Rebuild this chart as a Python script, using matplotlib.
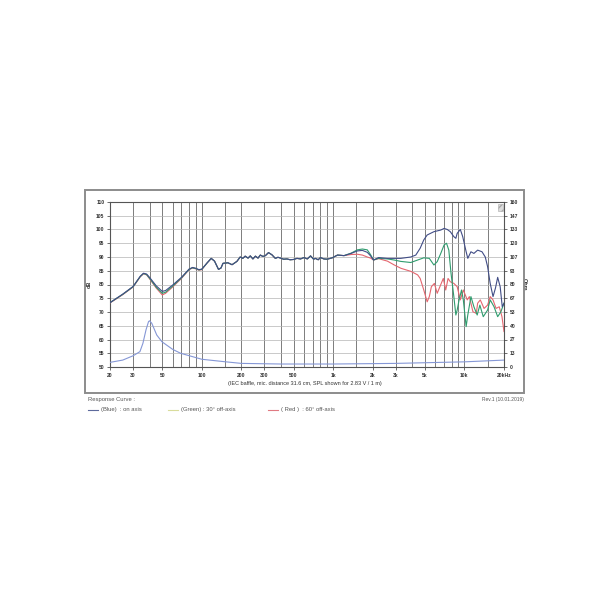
"""
Loudspeaker response curve: on-axis, 30 and 60 degree off-axis SPL with impedance.
"""
import numpy as np
from matplotlib import pyplot as plt
from matplotlib.patches import Rectangle
from matplotlib.lines import Line2D

plt.rcParams["font.family"] = ["Liberation Sans", "DejaVu Sans"]

W = H = 610

# ---- data ----
# shared low / mid frequency part (on-axis)
low_f = [20, 25, 30, 34, 36, 38, 40, 45, 50, 53, 60, 70, 80, 85, 90, 95, 100,
         110, 118, 125, 134, 140, 145, 158, 170, 185, 196, 205, 214, 225, 234,
         245, 256, 268, 279, 292, 305, 322, 342, 363, 380, 398, 420, 445, 470,
         500, 530, 565, 600, 636, 673, 710, 732, 770, 800, 850, 902, 983, 1080,
         1210]
low_db = [73.4, 76.5, 79.3, 83.0, 84.1, 83.8, 82.6, 79.5, 77.5, 77.8, 79.8,
          82.6, 85.6, 86.2, 85.9, 85.4, 85.6, 87.9, 89.5, 88.5, 85.5, 86.0,
          87.7, 87.9, 87.2, 88.4, 90.0, 89.5, 90.3, 89.6, 90.4, 89.3, 90.3,
          89.6, 90.7, 90.2, 90.5, 91.6, 90.8, 89.5, 89.9, 89.6, 89.2, 89.3,
          89.0, 89.1, 89.5, 89.3, 89.8, 89.3, 90.4, 89.2, 89.5, 89.0, 89.8,
          89.3, 89.2, 89.7, 90.7, 90.5]
# off-axis curves sit a bit lower in the 50 Hz dip
green_low_db = [73.4, 76.4, 79.2, 82.9, 84.0, 83.6, 82.3, 79.0, 76.8, 77.2,
                79.4, 82.4, 85.5, 86.1, 85.8, 85.3, 85.5]
red_low_db = [73.3, 76.3, 79.1, 82.8, 83.9, 83.5, 82.1, 78.7, 76.2, 76.8,
              79.1, 82.2, 85.4, 86.0, 85.7, 85.2, 85.4]

blue_hi_f = [1370, 1530, 1670, 1820, 1930, 2030, 2220, 2590, 2920, 3270, 3900,
             4260, 4600, 4900, 5200, 5850, 6600, 7000, 7400, 7800, 8300, 8600,
             8800, 9300, 9700, 10300, 10600, 11200, 11800, 12600, 13600, 14400,
             15000, 15700, 16500, 17200, 17900, 18700, 19400, 20000]
blue_hi_db = [91.3, 92.2, 92.4, 91.7, 90.4, 88.9, 89.8, 89.5, 89.5, 89.5, 90.0,
              90.7, 93.2, 96.2, 98.0, 99.2, 99.8, 100.4, 100.0, 99.2, 97.4,
              96.8, 98.6, 100.0, 97.4, 91.9, 89.5, 91.9, 91.3, 92.5, 91.9, 90.0,
              86.5, 80.4, 75.6, 78.6, 82.6, 79.2, 71.9, 73.2]

green_hi_f = [1370, 1530, 1670, 1820, 1930, 2030, 2220, 2590, 2920, 3270, 3900,
              4400, 4900, 5400, 5850, 6200, 6600, 7000, 7300, 7600, 7900, 8300,
              8600, 8800, 9100, 9500, 9800, 10300, 10600, 11200, 11800, 12500,
              13100, 13900, 15000, 15700, 16800, 17900, 18900, 20000]
green_hi_db = [91.4, 92.6, 92.9, 92.6, 90.8, 88.9, 89.5, 89.3, 88.9, 88.4,
               88.0, 88.9, 89.7, 89.5, 87.1, 88.3, 91.3, 94.4, 95.0, 92.5, 84.1,
               75.6, 68.9, 70.7, 74.4, 78.0, 74.4, 64.7, 68.9, 75.6, 71.9, 68.9,
               72.5, 68.3, 70.7, 74.4, 71.9, 68.3, 70.0, 73.2]

red_hi_f = [1370, 1530, 1670, 1820, 1930, 2030, 2220, 2590, 2920, 3280, 3600,
            3900, 4400, 4600, 4900, 5200, 5400, 5600, 5900, 6200, 6500, 6900,
            7200, 7500, 7800, 8300, 8800, 9300, 9800, 10500, 10900, 11600,
            12300, 12600, 13200, 14100, 15000, 15700, 16500, 17400, 18400,
            19300, 20000]
red_hi_db = [90.9, 91.0, 90.7, 90.0, 89.6, 88.9, 89.4, 88.5, 87.1, 85.9, 85.3,
             84.8, 83.5, 82.2, 78.0, 73.7, 75.6, 79.2, 80.4, 76.8, 79.2, 82.2,
             78.0, 82.2, 81.0, 80.4, 79.2, 74.4, 78.0, 74.4, 75.6, 70.1, 69.5,
             73.2, 74.4, 71.3, 72.5, 75.6, 74.4, 71.3, 71.9, 68.3, 62.9]

imp_f = [20, 25, 30, 33.8, 35.6, 37.6, 39.3, 40, 41.6, 45.4, 49.7, 60, 69, 100,
         150, 200, 400, 1000, 3000, 10000, 20000]
imp_ohm = [4.5, 6.7, 10.9, 14.9, 22.9, 36.0, 44.0, 44.8, 42.4, 31.0, 24.5, 17.1,
           13.3, 7.5, 5.1, 3.5, 2.9, 2.9, 3.5, 5.0, 6.7]

x_ticks = [20, 30, 50, 100, 200, 300, 500, 1000, 2000, 3000, 5000, 10000, 20000]
x_labels = ["20", "30", "50", "100", "200", "300", "500", "1k", "2k", "3k",
            "5k", "10k", "20kHz"]
x_grid = ([20, 30, 40, 50, 60, 70, 80, 90, 100, 150]
          + list(range(200, 1001, 100)) + [1500]
          + list(range(2000, 10001, 1000)) + [15000, 20000])
db_ticks = list(range(50, 111, 5))
ohm_labels = ["0", "13", "27", "40", "53", "67", "80", "93", "107", "120",
              "133", "147", "160"]

BLUE = "#414d86"
GREEN = "#2f9c6e"
RED = "#e4666f"
IMP = "#8597d6"
TXT = "#333333"


def fx(x):
    return x / W


def fy(y):
    return 1 - y / H


fig = plt.figure(figsize=(6.1, 6.1), dpi=100)

# Outer frame
fig.patches.append(Rectangle((fx(85), fy(393)), (524 - 85) / W, (393 - 190) / H,
                             transform=fig.transFigure, fill=False,
                             edgecolor="#8c8c8c", linewidth=1.4))

# Main axes
L, R, T, B = 110, 504, 202, 367
ax = fig.add_axes([fx(L), fy(B), (R - L) / W, (B - T) / H])
ax.set_xscale("log")
ax.set_xlim(20, 20000)
ax.set_ylim(50, 110)

for xv in x_grid:
    ax.axvline(xv, color="#7c7c7c", lw=0.7, zorder=0)
for yv in db_ticks:
    ax.axhline(yv, color="#b4b4b4", lw=0.5, zorder=0)

ax.set_xticks(x_ticks)
ax.set_xticklabels(x_labels)
ax.xaxis.set_minor_locator(plt.NullLocator())
ax.set_yticks(db_ticks)
ax.tick_params(axis="both", labelsize=3.6, length=2, width=0.5, pad=2,
               colors=TXT)
for lab in ax.get_xticklabels() + ax.get_yticklabels():
    lab.set_fontweight("bold")
for s in ax.spines.values():
    s.set_color("#555555")
    s.set_linewidth(0.8)
ax.set_ylabel("dB", fontsize=4, fontweight="bold", color=TXT, labelpad=3)

# SPL curves
ax.plot(low_f[:17] + low_f[17:] + red_hi_f,
        red_low_db + low_db[17:] + red_hi_db, color=RED, lw=0.8, zorder=3)
ax.plot(low_f[:17] + low_f[17:] + green_hi_f,
        green_low_db + low_db[17:] + green_hi_db, color=GREEN, lw=0.8, zorder=4)
ax.plot(low_f + blue_hi_f, low_db + blue_hi_db, color=BLUE, lw=0.8, zorder=5)

# Impedance on right axis
ax2 = ax.twinx()
ax2.set_ylim(0, 160)
ax2.set_yticks(np.linspace(0, 160, 13))
ax2.set_yticklabels(ohm_labels)
ax2.tick_params(axis="y", labelsize=3.6, length=2, width=0.5, pad=2, colors=TXT)
for lab in ax2.get_yticklabels():
    lab.set_fontweight("bold")
for s in ax2.spines.values():
    s.set_visible(False)
ax2.plot(imp_f, imp_ohm, color=IMP, lw=0.8, zorder=2)
ax2.set_ylabel("Ohm", fontsize=4, fontweight="bold", color=TXT, rotation=270,
               labelpad=6)

# small marker icon top right
ax.add_patch(Rectangle((0.986, 0.945), 0.011, 0.045, transform=ax.transAxes,
                       facecolor="#dcdcdc", edgecolor="#aaaaaa", lw=0.4,
                       hatch="/////", zorder=6))

# Caption in frame
fig.text(fx(305), fy(383), "(IEC baffle, mic. distance 31.6 cm, SPL shown for 2.83 V / 1 m)",
         fontsize=4, color=TXT, ha="center", va="center")

# Legend block under frame
fig.text(fx(88), fy(400), "Response Curve :", fontsize=4.2, color="#555555",
         ha="left", va="center")
fig.text(fx(524), fy(400), "Rev.1 (10.01.2019)", fontsize=3.5, color="#555555",
         ha="right", va="center")
legend = [("#5d6a9c", 88, "(Blue)  : on axis"),
          ("#d9dc9c", 168, "(Green) : 30\u00b0 off-axis"),
          ("#e07a82", 268, "( Red )  : 60\u00b0 off-axis")]
for col, x0, lab in legend:
    fig.add_artist(Line2D([fx(x0), fx(x0 + 10)], [fy(410), fy(410)],
                          transform=fig.transFigure, color=col, lw=0.8))
    fig.text(fx(x0 + 13), fy(410), lab, fontsize=4.2, color="#555555",
             ha="left", va="center")

fig.savefig("out.png", dpi=100)
